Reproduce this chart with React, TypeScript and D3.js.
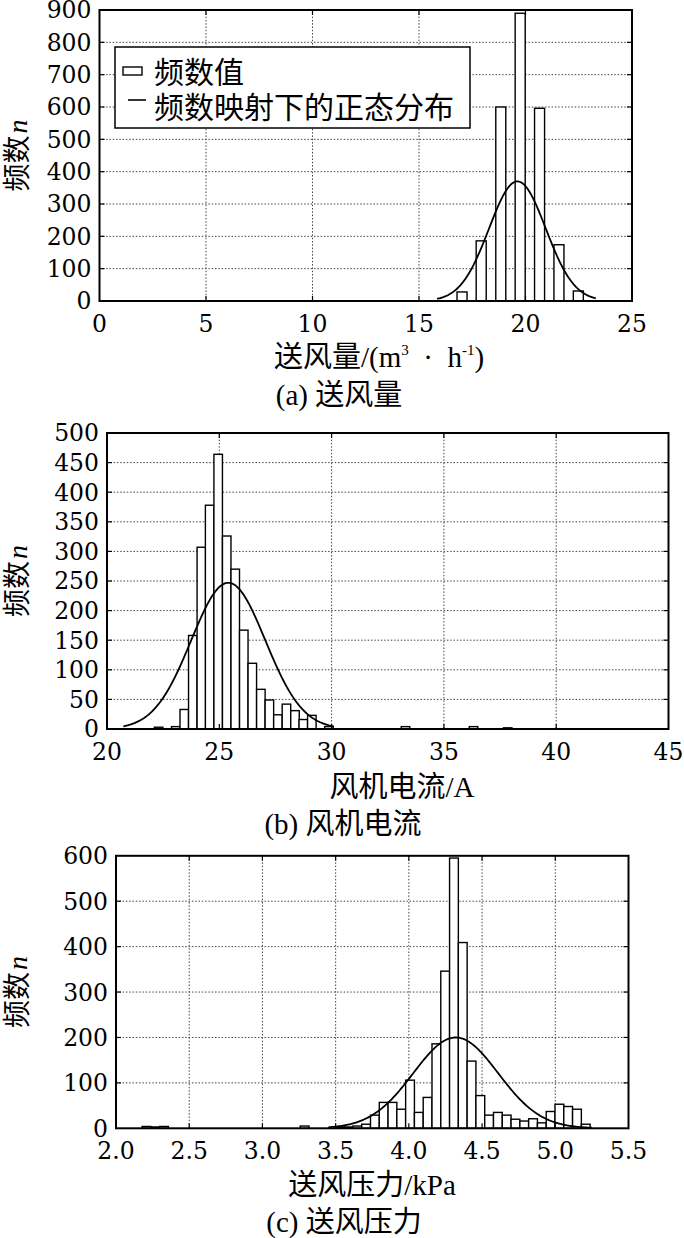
import React, { useEffect, useRef } from "react";
import * as d3 from "d3";

// (a) 送风量 — histogram bins (bin centre) and counts
const flowBins = [17.02, 17.92, 18.84, 19.75, 20.66, 21.57, 22.48];
const flowCounts = [28, 186, 600, 890, 596, 174, 31];
const flowTicksX = [0, 5, 10, 15, 20, 25];
const flowTicksY = [0, 100, 200, 300, 400, 500, 600, 700, 800, 900];
const flowFit = [19.62, 1.33, 370]; // mean, sd, peak
const flowFitRange = [15.85, 23.3];

// (b) 风机电流
const currentBins = [
  22.3, 22.68, 23.06, 23.44, 23.82, 24.2, 24.57, 24.95, 25.33, 25.71, 26.09,
  26.47, 26.85, 27.23, 27.61, 27.99, 28.37, 28.74, 29.12, 29.5, 29.88, 33.29,
  36.32, 37.84,
];
const currentCounts = [
  3, 0, 4, 33, 158, 307, 378, 464, 326, 270, 167, 111, 67, 49, 24, 42, 31, 16,
  23, 0, 4, 4, 4, 2,
];
const currentTicksX = [20, 25, 30, 35, 40, 45];
const currentTicksY = [0, 50, 100, 150, 200, 250, 300, 350, 400, 450, 500];
const currentFit = [25.4, 1.65, 247];
const currentFitRange = [20.73, 30.1];

// (c) 送风压力
const pressureBins = [
  2.208, 2.268, 2.328, 3.288, 3.528, 3.588, 3.648, 3.708, 3.768, 3.828, 3.888,
  3.948, 4.008, 4.068, 4.128, 4.188, 4.248, 4.308, 4.368, 4.428, 4.488, 4.548,
  4.608, 4.668, 4.728, 4.788, 4.848, 4.908, 4.968, 5.028, 5.088, 5.148, 5.208,
];
const pressureCounts = [
  4, 3, 4, 5, 3, 3, 5, 9, 29, 57, 57, 42, 106, 35, 68, 186, 346, 595, 409, 148,
  72, 29, 35, 29, 20, 16, 21, 12, 37, 53, 48, 42, 9,
];
const pressureTicksX = [2.0, 2.5, 3.0, 3.5, 4.0, 4.5, 5.0, 5.5];
const pressureTicksY = [0, 100, 200, 300, 400, 500, 600];
const pressureFit = [4.32, 0.29, 200];
const pressureFitRange = [3.45, 5.25];

const legendLabels = ["频数值", "频数映射下的正态分布"];

const CJK = "'Noto Sans CJK SC', sans-serif";
const SERIF = "'Liberation Serif', " + CJK;
const NUM = "'DejaVu Serif', serif";

type Panel = {
  left: number;
  right: number;
  top: number;
  bottom: number;
  bins: number[];
  counts: number[];
  barW: number;
  ticksX: number[];
  ticksY: number[];
  fit: number[];
  fitRange: number[];
  fmt: (d: number) => string;
};

function drawPanel(root: d3.Selection<SVGGElement, unknown, null, undefined>, p: Panel) {
  const x = d3
    .scaleLinear()
    .domain([p.ticksX[0], p.ticksX[p.ticksX.length - 1]])
    .range([p.left, p.right]);
  const y = d3
    .scaleLinear()
    .domain([p.ticksY[0], p.ticksY[p.ticksY.length - 1]])
    .range([p.bottom, p.top]);
  const g = root.append("g");

  // dotted grid
  g.selectAll("line.gx")
    .data(p.ticksX.slice(1, -1))
    .join("line")
    .attr("x1", (d) => x(d))
    .attr("x2", (d) => x(d))
    .attr("y1", p.top)
    .attr("y2", p.bottom)
    .attr("stroke", "#444")
    .attr("stroke-width", 1)
    .attr("stroke-dasharray", "1.5,1.8");
  g.selectAll("line.gy")
    .data(p.ticksY.slice(1, -1))
    .join("line")
    .attr("x1", p.left)
    .attr("x2", p.right)
    .attr("y1", (d) => y(d))
    .attr("y2", (d) => y(d))
    .attr("stroke", "#444")
    .attr("stroke-width", 1)
    .attr("stroke-dasharray", "1.5,1.8");

  // bars
  const bars = p.bins.map((b, i) => ({ b, n: p.counts[i] }));
  g.selectAll("rect.bar")
    .data(bars)
    .join("rect")
    .attr("x", (d) => x(d.b - p.barW / 2))
    .attr("width", (d) => x(d.b + p.barW / 2) - x(d.b - p.barW / 2))
    .attr("y", (d) => y(d.n))
    .attr("height", (d) => y(0) - y(d.n))
    .attr("fill", "#fff")
    .attr("stroke", "#000")
    .attr("stroke-width", 1.4);

  // normal curve
  const [mu, sd, peak] = p.fit;
  const xs = d3.range(p.fitRange[0], p.fitRange[1], (p.fitRange[1] - p.fitRange[0]) / 200).concat([p.fitRange[1]]);
  const line = d3
    .line<number>()
    .x((d) => x(d))
    .y((d) => y(peak * Math.exp(-((d - mu) ** 2) / (2 * sd * sd))));
  g.append("path")
    .attr("d", line(xs))
    .attr("fill", "none")
    .attr("stroke", "#000")
    .attr("stroke-width", 1.8);

  // inward ticks
  const tl = 5;
  p.ticksX.slice(1, -1).forEach((t) => {
    g.append("line").attr("x1", x(t)).attr("x2", x(t)).attr("y1", p.bottom).attr("y2", p.bottom - tl).attr("stroke", "#000").attr("stroke-width", 1.2);
    g.append("line").attr("x1", x(t)).attr("x2", x(t)).attr("y1", p.top).attr("y2", p.top + tl).attr("stroke", "#000").attr("stroke-width", 1.2);
  });
  p.ticksY.slice(1, -1).forEach((t) => {
    g.append("line").attr("x1", p.left).attr("x2", p.left + tl).attr("y1", y(t)).attr("y2", y(t)).attr("stroke", "#000").attr("stroke-width", 1.2);
    g.append("line").attr("x1", p.right).attr("x2", p.right - tl).attr("y1", y(t)).attr("y2", y(t)).attr("stroke", "#000").attr("stroke-width", 1.2);
  });

  // frame
  g.append("rect")
    .attr("x", p.left)
    .attr("y", p.top)
    .attr("width", p.right - p.left)
    .attr("height", p.bottom - p.top)
    .attr("fill", "none")
    .attr("stroke", "#000")
    .attr("stroke-width", 2);

  // tick labels
  g.selectAll("text.tx")
    .data(p.ticksX)
    .join("text")
    .attr("x", (d) => x(d))
    .attr("y", p.bottom + 31)
    .attr("text-anchor", "middle")
    .attr("font-family", NUM)
    .attr("font-size", 23.5)
    .text((d) => p.fmt(d));
  g.selectAll("text.ty")
    .data(p.ticksY)
    .join("text")
    .attr("x", p.left - 8)
    .attr("y", (d) => y(d))
    .attr("dy", "0.36em")
    .attr("text-anchor", "end")
    .attr("font-family", NUM)
    .attr("font-size", 23.5)
    .text((d) => String(d));

  // y label 频数n
  const yl = g
    .append("text")
    .attr("transform", `translate(27,${(p.top + p.bottom) / 2}) rotate(-90)`)
    .attr("text-anchor", "middle")
    .attr("font-size", 28);
  yl.append("tspan").attr("font-family", CJK).text("频数");
  yl.append("tspan").attr("font-family", "'Liberation Serif', serif").attr("font-style", "italic").attr("dx", 2).text("n");

  return { x, y };
}

function caption(root: d3.Selection<SVGGElement, unknown, null, undefined>, cx: number, cy: number, tag: string, label: string) {
  const t = root
    .append("text")
    .attr("x", cx)
    .attr("y", cy)
    .attr("text-anchor", "middle")
    .attr("font-size", 29);
  t.append("tspan").attr("font-family", "'Liberation Serif', serif").text(tag + " ");
  t.append("tspan").attr("font-family", CJK).text(label);
}

function HistogramFigure() {
  const svgRef = useRef<SVGSVGElement>(null);

  useEffect(() => {
    if (!svgRef.current) return;
    const svg = d3.select(svgRef.current);
    svg.selectAll("*").remove();
    const root = svg.append("g");

    // (a)
    drawPanel(root, {
      left: 99.5,
      right: 632,
      top: 10,
      bottom: 301,
      bins: flowBins,
      counts: flowCounts,
      barW: 0.47,
      ticksX: flowTicksX,
      ticksY: flowTicksY,
      fit: flowFit,
      fitRange: flowFitRange,
      fmt: (d) => String(d),
    });

    // legend
    const lg = root.append("g");
    lg.append("rect").attr("x", 115).attr("y", 47).attr("width", 355).attr("height", 81).attr("fill", "#fff").attr("stroke", "#000").attr("stroke-width", 1.5);
    lg.append("rect").attr("x", 123).attr("y", 67).attr("width", 19).attr("height", 8).attr("fill", "#fff").attr("stroke", "#000").attr("stroke-width", 1.4);
    lg.append("line").attr("x1", 128).attr("x2", 146).attr("y1", 100).attr("y2", 100).attr("stroke", "#000").attr("stroke-width", 1.6);
    legendLabels.forEach((s, i) => {
      lg.append("text")
        .attr("x", 154)
        .attr("y", 83 + i * 35)
        .attr("font-family", CJK)
        .attr("font-size", 30)
        .text(s);
    });

    const xa = root.append("text").attr("x", 379).attr("y", 367).attr("text-anchor", "middle").attr("font-size", 29).attr("font-family", SERIF);
    xa.append("tspan").attr("font-family", CJK).text("送风量");
    xa.append("tspan").text("/(m");
    xa.append("tspan").attr("font-size", 15).attr("dy", -12).text("3");
    xa.append("tspan").attr("dy", 12).text("\u2002·\u2002h");
    xa.append("tspan").attr("font-size", 15).attr("dy", -12).text("-1");
    xa.append("tspan").attr("dy", 12).text(")");
    caption(root, 339, 405, "(a)", "送风量");

    // (b)
    drawPanel(root, {
      left: 107,
      right: 668.5,
      top: 433,
      bottom: 729,
      bins: currentBins,
      counts: currentCounts,
      barW: 0.379,
      ticksX: currentTicksX,
      ticksY: currentTicksY,
      fit: currentFit,
      fitRange: currentFitRange,
      fmt: (d) => String(d),
    });
    const xb = root.append("text").attr("x", 402).attr("y", 797).attr("text-anchor", "middle").attr("font-size", 29).attr("font-family", SERIF);
    xb.append("tspan").attr("font-family", CJK).text("风机电流");
    xb.append("tspan").text("/A");
    caption(root, 343, 834, "(b)", "风机电流");

    // (c)
    drawPanel(root, {
      left: 116,
      right: 628.5,
      top: 855.8,
      bottom: 1128.3,
      bins: pressureBins,
      counts: pressureCounts,
      barW: 0.06,
      ticksX: pressureTicksX,
      ticksY: pressureTicksY,
      fit: pressureFit,
      fitRange: pressureFitRange,
      fmt: d3.format(".1f"),
    });
    const xc = root.append("text").attr("x", 372).attr("y", 1195).attr("text-anchor", "middle").attr("font-size", 29).attr("font-family", SERIF);
    xc.append("tspan").attr("font-family", CJK).text("送风压力");
    xc.append("tspan").text("/kPa");
    caption(root, 344, 1232, "(c)", "送风压力");
  }, []);

  return (
    <svg
      ref={svgRef}
      width={684}
      height={1238}
      viewBox="0 0 684 1238"
      style={{ position: "absolute", left: 0, top: 0, background: "#fff" }}
    />
  );
}

export default HistogramFigure;
